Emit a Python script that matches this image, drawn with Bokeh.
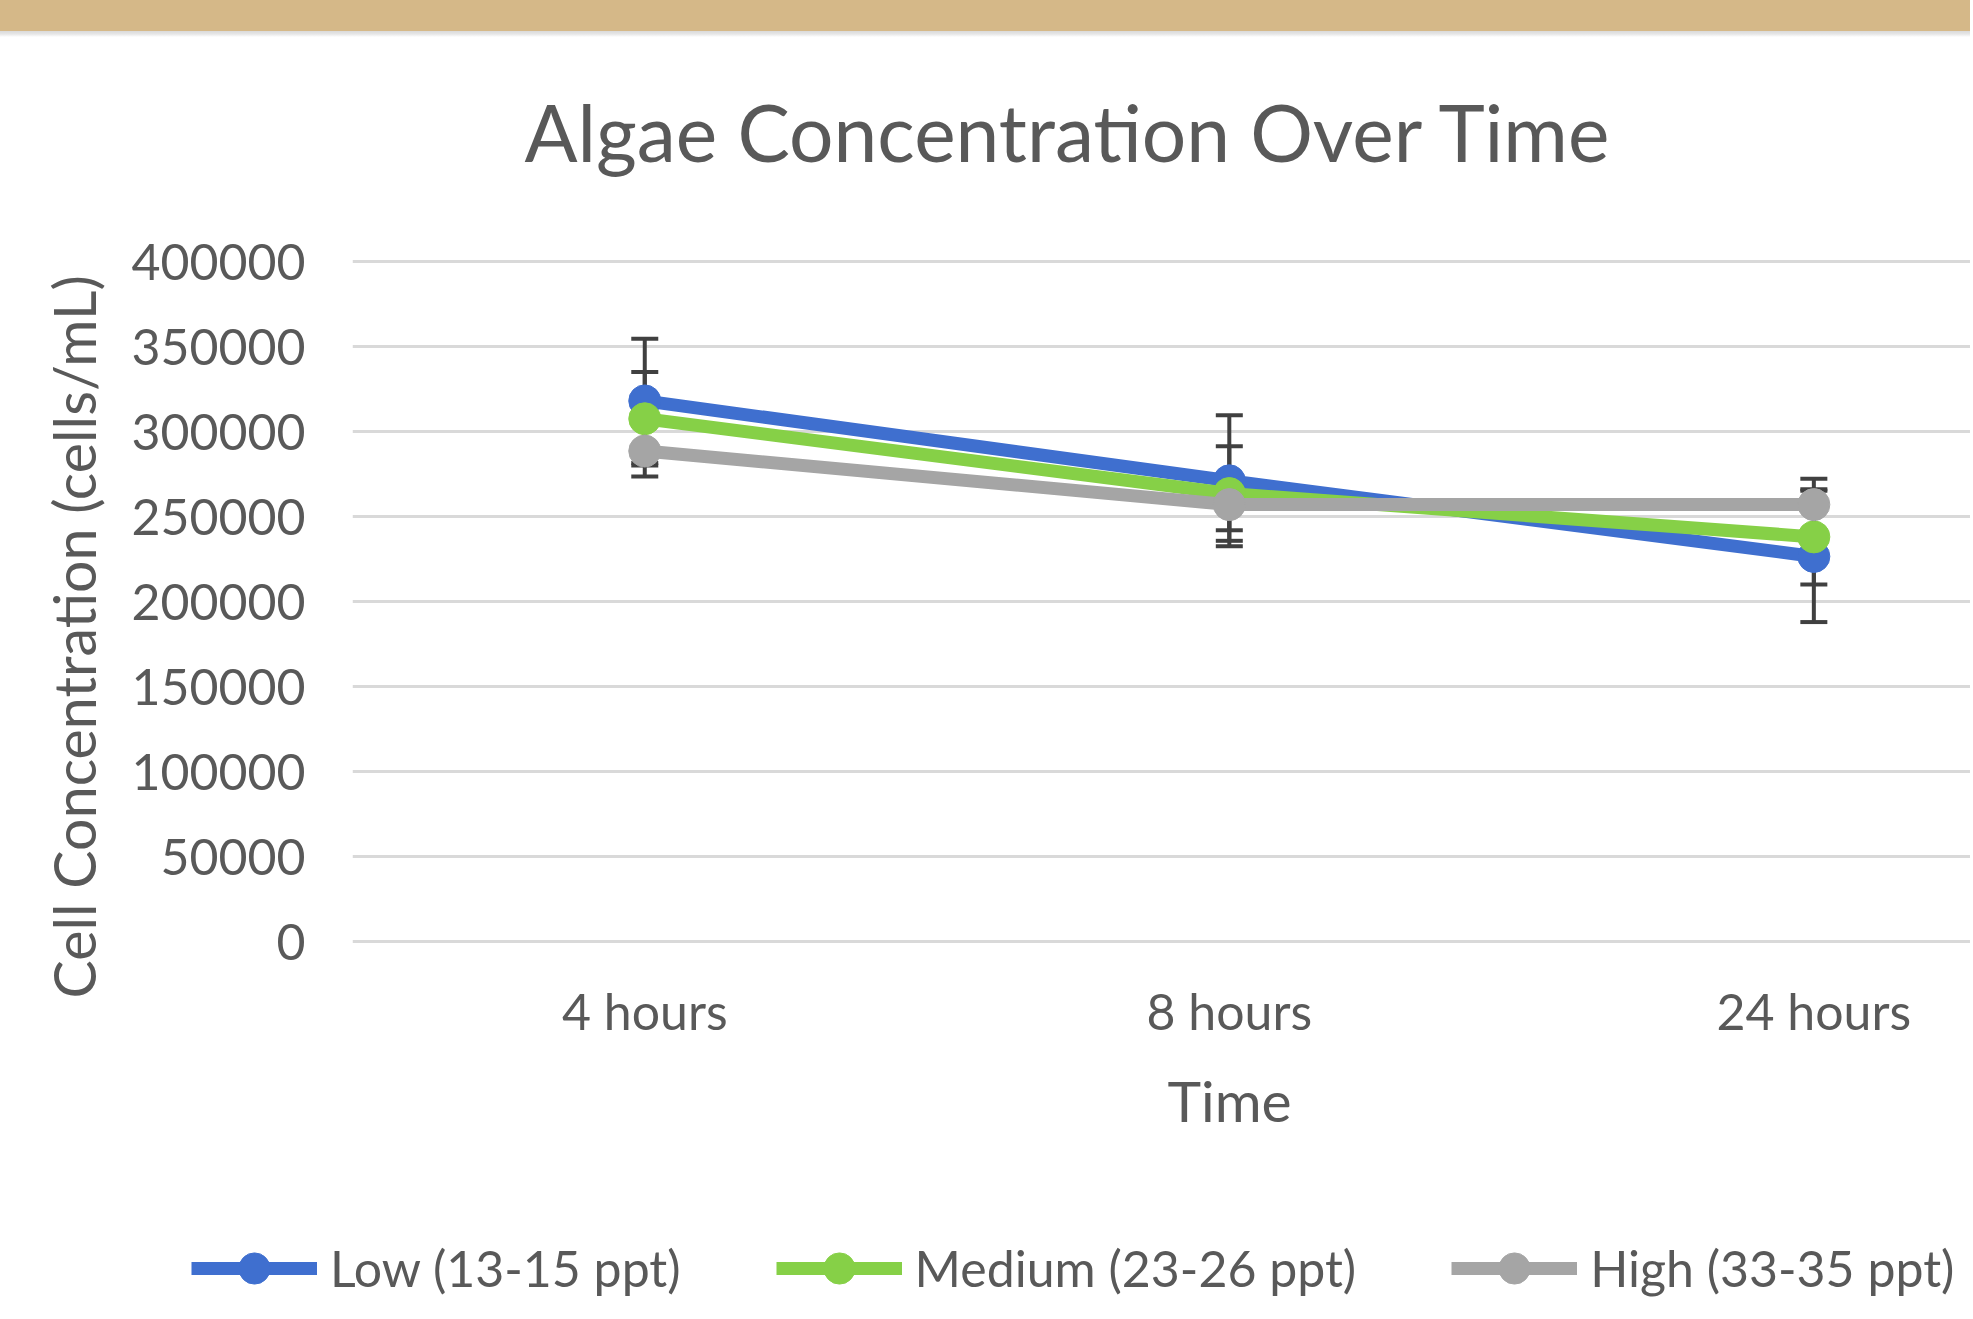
from bokeh.plotting import figure
from bokeh.layouts import column
from bokeh.models import (Range1d, FixedTicker, NumeralTickFormatter, Whisker, Title,
                          ColumnDataSource, Legend, LegendItem, TeeHead)
from bokeh.embed import file_html
from bokeh.resources import INLINE

# ---------------- data ----------------
categories = ["4 hours", "8 hours", "24 hours"]
series_names = ["Low (13-15 ppt)", "Medium (23-26 ppt)", "High (33-35 ppt)"]
low = [318000, 271000, 226500]
low_err = [36500, 38500, 38600]
medium = [307500, 263500, 238000]
medium_err = [27500, 27800, 28000]
high = [288500, 257000, 257000]
high_err = [15000, 15100, 15200]
y_ticks = [0, 50000, 100000, 150000, 200000, 250000, 300000, 350000, 400000]

title_text = "Algae Concentration Over Time"
x_title = "Time"
y_title = "Cell Concentration (cells/mL)"

colors = ["#3F6FCF", "#86D047", "#A5A5A5"]
FONT = "Lato"
TXT = "#595959"

PAGE_W, PAGE_H = 1970, 1316
LEG_H = 96
W, H = PAGE_W, PAGE_H - LEG_H
xpos = [i + 0.5 for i in range(len(categories))]

PAD = 4 * 400000 / 680.0
p = figure(width=W, height=H, output_backend="svg", toolbar_location=None,
           x_range=Range1d(0, 2.768), y_range=Range1d(-PAD, 400000 + PAD),
           min_border_left=352, min_border_right=0,
           min_border_top=257, min_border_bottom=H - 945)
p.outline_line_color = None
p.background_fill_color = "white"
p.border_fill_alpha = 0
p.styles = {"background": "linear-gradient(to bottom, #D5B888 0px, #D5B888 31px, "
                          "#DADADA 31px, #E6E6E6 34px, #FFFFFF 37px, #FFFFFF 100%)"}

# title
p.title.text = title_text
p.title.align = "left"
p.title.offset = 172
p.title.text_font = FONT
p.title.text_font_size = "78.5px"
p.title.text_font_style = "normal"
p.title.text_color = TXT
p.title.standoff = 158

# grid
p.xgrid.visible = False
p.ygrid.ticker = FixedTicker(ticks=y_ticks)
p.ygrid.grid_line_color = "#D9D9D9"
p.ygrid.grid_line_width = 3

# y axis
p.yaxis.ticker = FixedTicker(ticks=y_ticks)
p.yaxis.formatter = NumeralTickFormatter(format="0")
p.yaxis.axis_line_color = None
p.yaxis.major_tick_line_color = None
p.yaxis.major_tick_out = 0
p.yaxis.major_tick_in = 0
p.yaxis.minor_tick_line_color = None
p.yaxis.major_label_standoff = 47
p.yaxis.major_label_text_font = FONT
p.yaxis.major_label_text_font_size = "50px"
p.yaxis.major_label_text_color = TXT

# x axis
p.xaxis.ticker = FixedTicker(ticks=xpos)
p.xaxis.major_label_overrides = {x: c for x, c in zip(xpos, categories)}
p.xaxis.axis_line_color = None
p.xaxis.major_tick_line_color = None
p.xaxis.major_tick_out = 0
p.xaxis.major_tick_in = 0
p.xaxis.minor_tick_line_color = None
p.xaxis.major_label_standoff = 35
p.xaxis.major_label_text_font = FONT
p.xaxis.major_label_text_font_size = "50px"
p.xaxis.major_label_text_color = TXT

# axis titles (as titles so they can be offset like the original)
ytitle = Title(text=y_title, align="left", offset=-53, standoff=42,
               text_font=FONT, text_font_size="57.4px", text_font_style="normal",
               text_color=TXT)
p.add_layout(ytitle, "left")
xtitle = Title(text=x_title, align="left", offset=815, standoff=40,
               text_font=FONT, text_font_size="57px", text_font_style="normal",
               text_color=TXT)
p.add_layout(xtitle, "below")

all_vals = [low, medium, high]
all_errs = [low_err, medium_err, high_err]

# error bars (beneath the series)
for vals, errs in zip(all_vals, all_errs):
    src = ColumnDataSource(dict(x=xpos,
                                upper=[v + e for v, e in zip(vals, errs)],
                                lower=[v - e for v, e in zip(vals, errs)]))
    w = Whisker(base="x", upper="upper", lower="lower", source=src,
                line_color="#404040", line_width=4,
                upper_head=TeeHead(size=27, line_color="#404040", line_width=4),
                lower_head=TeeHead(size=27, line_color="#404040", line_width=4))
    p.add_layout(w)

for name, vals, col in zip(series_names, all_vals, colors):
    src = ColumnDataSource(dict(x=xpos, y=vals))
    p.line("x", "y", source=src, line_color=col, line_width=13)
    p.scatter("x", "y", source=src, size=32, fill_color=col, line_color=col)

# ---------------- legend strip ----------------
pl = figure(width=PAGE_W, height=LEG_H, output_backend="svg", toolbar_location=None,
            x_range=Range1d(0, 1), y_range=Range1d(0, 1),
            x_axis_type=None, y_axis_type=None, min_border=0)
for fig in (p, pl):
    try:
        fig.frame_align = False
    except Exception:
        pass
pl.title.visible = False
pl.outline_line_color = None
pl.grid.visible = False
items = []
for name, col in zip(series_names, colors):
    # sample glyphs for the key only, kept outside the visible range
    lsrc = ColumnDataSource(dict(x=[-5, -4], y=[-5, -5]))
    lr = pl.line("x", "y", source=lsrc, line_color=col, line_width=13)
    sr = pl.scatter("x", "y", source=lsrc, size=32, fill_color=col, line_color=col)
    items.append(LegendItem(label=name, renderers=[lr, sr]))
legend = Legend(items=items, orientation="horizontal", location=(191, 9),
                glyph_width=126, glyph_height=78, label_standoff=13, spacing=95,
                padding=0, margin=0, border_line_color=None,
                background_fill_alpha=0,
                label_text_font=FONT, label_text_font_size="50px",
                label_text_color=TXT)
pl.add_layout(legend, "center")

layout = column(p, pl, spacing=0)
open("out.html", "w").write(file_html(layout, INLINE))
